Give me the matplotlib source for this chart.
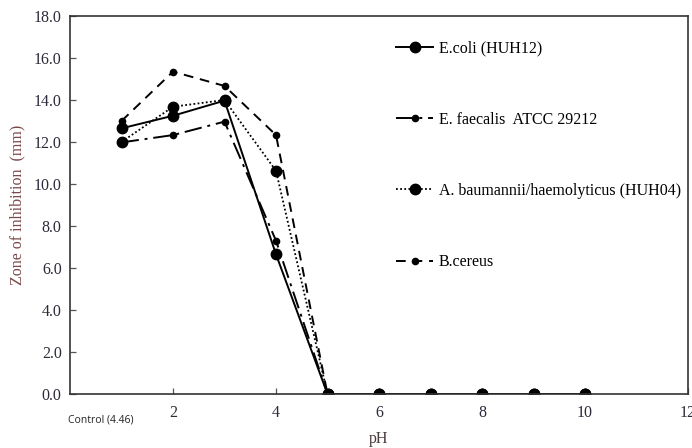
import matplotlib
matplotlib.use("Agg")
import matplotlib.pyplot as plt

ph = [1, 2, 3, 4, 5, 6, 7, 8, 9, 10]
ecoli = [12.65, 13.25, 13.97, 6.65, 0, 0, 0, 0, 0, 0]
efaecalis = [11.98, 12.33, 12.97, 7.3, 0, 0, 0, 0, 0, 0]
abaumannii = [12.0, 13.68, 14.0, 10.63, 0, 0, 0, 0, 0, 0]
bcereus = [13.0, 15.35, 14.67, 12.33, 0, 0, 0, 0, 0, 0]
labels = ["E.coli (HUH12)", "E. faecalis  ATCC 29212",
          "A. baumannii/haemolyticus (HUH04)", "B.cereus"]
xticks = [2, 4, 6, 8, 10, 12]
yticks = [0, 2, 4, 6, 8, 10, 12, 14, 16, 18]

serif = "Liberation Serif"
tickc = "#2b2b3a"
labc = "#7a4848"

fig = plt.figure(figsize=(6.92, 4.48), dpi=100)
ax = fig.add_axes([70/692, 1-394/448, 618/692, 378/448])

ax.plot(ph, ecoli, color="black", lw=1.4, ls="-", marker="o", ms=7.5, label=labels[0])
ax.plot(ph, efaecalis, color="black", lw=1.4, ls=(0, (9, 3, 1.5, 3)), marker="o", ms=4.5, label=labels[1])
ax.plot(ph, abaumannii, color="black", lw=1.3, ls=(0, (1, 1.3)), marker="o", ms=7.5, label=labels[2])
ax.plot(ph, bcereus, color="black", lw=1.4, ls=(0, (5, 3.5)), marker="o", ms=4.5, label=labels[3])

ax.set_xlim(0, 12)
ax.set_ylim(0, 18)
ax.set_xticks(xticks)
ax.set_xticklabels([str(t) for t in xticks], fontfamily=serif, fontsize=11.5, color=tickc)
ax.set_yticks(yticks)
ax.set_yticklabels([f"{t:.1f}" for t in yticks], fontfamily=serif, fontsize=11.5, color=tickc)
ax.tick_params(direction="in", length=4, width=0.9, colors="#555555", labelcolor=tickc, pad=6)
ax.tick_params(axis="x", pad=8)
for s in ax.spines.values():
    s.set_linewidth(1.2)
    s.set_color("#333333")

ax.set_ylabel("Zone of inhibition  (mm)", fontfamily=serif, fontsize=11.5, color=labc, labelpad=6)
ax.set_xlabel("pH", fontfamily=serif, fontsize=11.5, color="#4a3a3a", labelpad=7)

ax.text(-0.04, -0.055, "Control (4.46)", transform=ax.get_xaxis_transform(),
        ha="left", va="top", fontfamily="Open Sans", fontsize=7.5, color="#222222")

leg = ax.legend(loc="upper left", bbox_to_anchor=(0.51, 0.964), frameon=False,
                prop={"family": serif, "size": 11.5}, labelspacing=3.45,
                handlelength=2.3, handletextpad=0.35, borderpad=0.2)

fig.savefig("out.png", dpi=100)
